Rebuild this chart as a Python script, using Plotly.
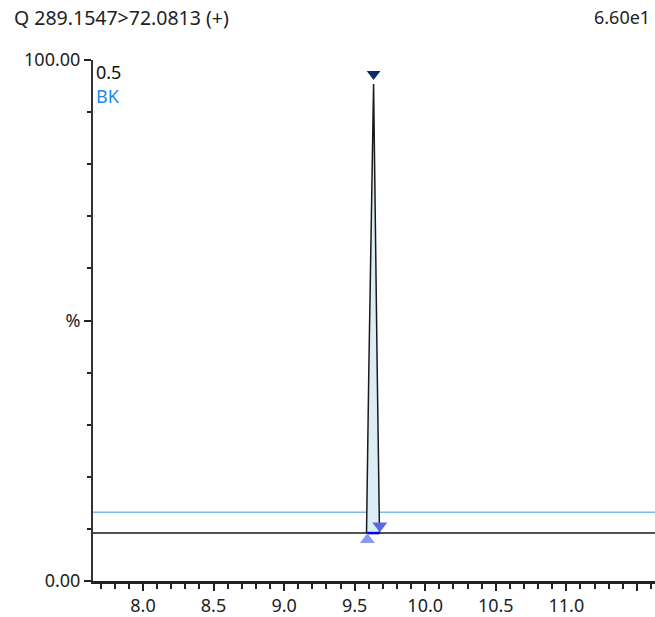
import plotly.graph_objects as go

# ---- data ----
rt = [7.646, 9.500, 9.584, 9.600, 9.634, 9.660, 9.670, 9.676, 9.750, 11.628]
intensity = [9.2, 9.2, 9.2, 40.0, 95.4, 40.0, 15.0, 9.2, 9.2, 9.2]
peak_rt = [9.584, 9.600, 9.634, 9.660, 9.670, 9.676]
peak_int = [9.2, 40.0, 95.4, 40.0, 15.0, 9.2]
baseline_level = 9.2
threshold_level = 13.2
apex = (9.634, 97.3)
start_mark = (9.590, 7.9)
end_mark = (9.678, 10.6)
x_tick_vals = [8.0, 8.5, 9.0, 9.5, 10.0, 10.5, 11.0, 11.5]
x_tick_text = ["8.0", "8.5", "9.0", "9.5", "10.0", "10.5", "11.0", ""]
y_tick_vals = [0, 50, 100]
y_tick_text = ["0.00", "%", "100.00"]
title_text = "Q 289.1547>72.0813 (+)"
scale_text = "6.60e1"
x_range = [7.646, 11.628]

FONT = "Noto Sans"
FS = 18

fig = go.Figure()

# threshold line
fig.add_trace(go.Scatter(x=x_range, y=[threshold_level] * 2, mode="lines",
                         line=dict(color="#7ab8f0", width=1.5), hoverinfo="skip"))
# peak fill
fig.add_trace(go.Scatter(x=peak_rt + [peak_rt[0]], y=peak_int + [peak_int[0]],
                         mode="lines", fill="toself", fillcolor="#dcedf5",
                         line=dict(width=0), hoverinfo="skip"))
# chromatogram
fig.add_trace(go.Scatter(x=rt, y=intensity, mode="lines",
                         line=dict(color="#1a1a1a", width=1.5)))
# integration baseline
fig.add_trace(go.Scatter(x=[peak_rt[0], peak_rt[-1]], y=[baseline_level] * 2,
                         mode="lines", line=dict(color="#0000ff", width=2.5)))
# markers
fig.add_trace(go.Scatter(x=[apex[0]], y=[apex[1]], mode="markers",
                         marker=dict(symbol="triangle-down", size=12, color="#0d2b6b")))
fig.add_trace(go.Scatter(x=[start_mark[0]], y=[start_mark[1]], mode="markers",
                         marker=dict(symbol="triangle-up", size=13, color="#8a99f2")))
fig.add_trace(go.Scatter(x=[end_mark[0]], y=[end_mark[1]], mode="markers",
                         marker=dict(symbol="triangle-down", size=13, color="#5b68e0")))

fig.update_layout(
    width=655, height=617,
    margin=dict(l=93, r=0, t=60, b=36),
    paper_bgcolor="white", plot_bgcolor="white",
    showlegend=False,
    font=dict(family=FONT, size=FS, color="#222"),
    xaxis=dict(range=x_range, showgrid=False, zeroline=False,
               showline=True, linecolor="#222", linewidth=2.5,
               tickmode="array", tickvals=x_tick_vals, ticktext=x_tick_text,
               ticks="outside", ticklen=7, tickwidth=1.5, tickcolor="#222",
               minor=dict(dtick=0.1, tick0=8.0, ticks="outside", ticklen=5,
                          tickwidth=1.5, tickcolor="#222"),
               tickfont=dict(size=FS)),
    yaxis=dict(range=[0, 100], showgrid=False, zeroline=False,
               showline=True, linecolor="#333", linewidth=2,
               tickmode="array", tickvals=y_tick_vals, ticktext=y_tick_text,
               ticks="outside", ticklen=7, tickwidth=1.5, tickcolor="#222",
               minor=dict(dtick=10, tick0=0, ticks="outside", ticklen=4,
                          tickwidth=1.5, tickcolor="#222"),
               tickfont=dict(size=FS)),
    annotations=[
        dict(text=title_text, xref="paper", yref="paper", x=-93/562, y=1,
             yshift=43, xshift=12, xanchor="left", yanchor="middle",
             showarrow=False, font=dict(size=19.5)),
        dict(text=scale_text, xref="paper", yref="paper", x=1, y=1,
             yshift=43, xshift=-3, xanchor="right", yanchor="middle",
             showarrow=False, font=dict(size=FS)),
        dict(text="0.5", xref="paper", yref="paper", x=0, y=1,
             xshift=1, yshift=-12, xanchor="left", yanchor="middle",
             showarrow=False, font=dict(size=FS, color="#111")),
        dict(text="BK", xref="paper", yref="paper", x=0, y=1,
             xshift=1, yshift=-36, xanchor="left", yanchor="middle",
             showarrow=False, font=dict(size=FS, color="#1e88f0")),
    ],
)

fig.write_html("out.html")
